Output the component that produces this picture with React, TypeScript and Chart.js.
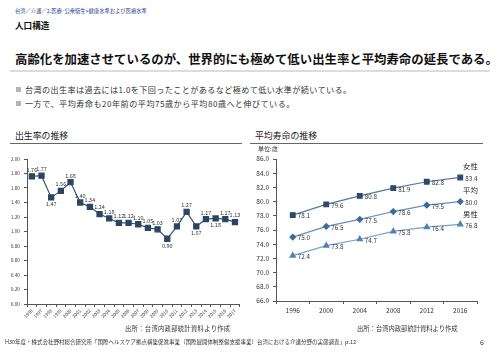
import React, { useEffect, useRef } from "react";
import { Chart, registerables } from "chart.js";

Chart.register(...registerables);

// ---------- Data ----------
const birthYears = [
  "1996", "1997", "1998", "1999", "2000", "2001", "2002", "2003", "2004", "2005", "2006",
  "2007", "2008", "2009", "2010", "2011", "2012", "2013", "2014", "2015", "2016", "2017",
];
const birthRates = [
  1.76, 1.77, 1.47, 1.56, 1.68, 1.4, 1.34, 1.24, 1.18, 1.12, 1.12,
  1.1, 1.05, 1.03, 0.9, 1.07, 1.27, 1.07, 1.17, 1.18, 1.17, 1.13,
];
const birthTicks = [0, 0.2, 0.4, 0.6, 0.8, 1.0, 1.2, 1.4, 1.6, 1.8, 2.0];

const lifeYears = ["1996", "2000", "2004", "2008", "2012", "2016"];
const lifeFemale = [78.1, 79.6, 80.8, 81.9, 82.8, 83.4];
const lifeAverage = [75.0, 76.5, 77.5, 78.6, 79.5, 80.0];
const lifeMale = [72.4, 73.8, 74.7, 75.8, 76.4, 76.8];
const lifeSeriesNames = ["女性", "平均", "男性"];
const lifeTicks = [66, 68, 70, 72, 74, 76, 78, 80, 82, 84, 86];

// label placement for birth-rate chart (style)
const birthLabelsBelow = new Set([2, 14, 17, 19]);

const JP = '"Noto Sans CJK JP", "Noto Sans", sans-serif';

const valueLabelPlugin = {
  id: "valueLabels",
  afterDatasetsDraw(chart: any, _args: any, opts: any) {
    const ctx = chart.ctx;
    ctx.save();
    ctx.font = opts.font;
    ctx.fillStyle = opts.color;
    chart.data.datasets.forEach((ds: any, di: number) => {
      const meta = chart.getDatasetMeta(di);
      meta.data.forEach((pt: any, i: number) => {
        const v = ds.data[i];
        const text = v.toFixed(opts.decimals);
        if (opts.mode === "right") {
          ctx.textAlign = "left";
          ctx.textBaseline = "middle";
          ctx.fillText(text, pt.x + 5, pt.y + 1);
        } else {
          ctx.textAlign = "center";
          if (birthLabelsBelow.has(i)) {
            ctx.textBaseline = "top";
            ctx.fillText(text, pt.x, pt.y + 4);
          } else {
            ctx.textBaseline = "bottom";
            ctx.fillText(text, pt.x, pt.y - 4);
          }
        }
      });
    });
    ctx.restore();
  },
};

function BirthChart() {
  const ref = useRef<HTMLCanvasElement>(null);
  useEffect(() => {
    const chart = new Chart(ref.current!, {
      type: "line",
      data: {
        labels: birthYears,
        datasets: [
          {
            data: birthRates,
            borderColor: "#3a5574",
            borderWidth: 1.2,
            backgroundColor: "#2b4563",
            pointBackgroundColor: "#2b4563",
            pointBorderColor: "#2b4563",
            pointStyle: "rect",
            pointRadius: 3.6,
            tension: 0,
          },
        ],
      },
      options: {
        animation: false,
        responsive: false,
        devicePixelRatio: 1,
        layout: { padding: { left: 0, top: 9, right: 5, bottom: 0 } },
        plugins: {
          legend: { display: false },
          tooltip: { enabled: false },
          valueLabels: { font: `5.5px ${JP}`, color: "#333", decimals: 2, mode: "above" },
        } as any,
        scales: {
          x: {
            type: "category",
            offset: true,
            grid: { display: true, drawOnChartArea: false, offset: true, tickLength: 3, color: "#555" },
            border: { display: true, color: "#555" },
            ticks: {
              autoSkip: false,
              maxRotation: 45,
              minRotation: 45,
              padding: 1,
              font: { size: 4.5, family: JP },
              color: "#333",
            },
            afterFit: (s: any) => { s.height = 22; },
          },
          y: {
            min: 0,
            max: 2,
            afterBuildTicks: (s: any) => { s.ticks = birthTicks.map((v) => ({ value: v })); },
            grid: { display: true, drawOnChartArea: false, tickLength: 3, color: "#555" },
            border: { display: true, color: "#555" },
            ticks: {
              callback: (v: any) => Number(v).toFixed(2),
              font: { size: 4.8, family: JP },
              color: "#333",
              padding: 4,
            },
            afterFit: (s: any) => { s.width = 27; },
          },
        },
      },
      plugins: [valueLabelPlugin],
    });
    return () => chart.destroy();
  }, []);
  return (
    <canvas
      ref={ref}
      width={245}
      height={176}
      style={{ position: "absolute", left: 0, top: 150, width: 245, height: 176 }}
    />
  );
}

function LifeChart() {
  const ref = useRef<HTMLCanvasElement>(null);
  useEffect(() => {
    const mk = (data: number[], line: string, marker: string, style: string, r: number) => ({
      data,
      borderColor: line,
      borderWidth: 1.2,
      backgroundColor: marker,
      pointBackgroundColor: marker,
      pointBorderColor: marker,
      pointStyle: style,
      pointRadius: r,
      tension: 0,
    });
    const chart = new Chart(ref.current!, {
      type: "line",
      data: {
        labels: lifeYears,
        datasets: [
          { ...mk(lifeFemale, "#5478a2", "#2c4a6e", "rect", 3.3), label: lifeSeriesNames[0] },
          { ...mk(lifeAverage, "#6790bc", "#3d6a9a", "rectRot", 2.8), label: lifeSeriesNames[1] },
          { ...mk(lifeMale, "#7aa2cc", "#4f80b6", "triangle", 3.0), label: lifeSeriesNames[2] },
        ] as any,
      },
      options: {
        animation: false,
        responsive: false,
        devicePixelRatio: 1,
        layout: { padding: { left: 0, top: 9, right: 13, bottom: 0 } },
        plugins: {
          legend: { display: false },
          tooltip: { enabled: false },
          valueLabels: { font: `6.3px ${JP}`, color: "#333", decimals: 1, mode: "right" },
        } as any,
        scales: {
          x: {
            type: "category",
            offset: true,
            grid: { display: true, drawOnChartArea: false, offset: true, tickLength: 3, color: "#555" },
            border: { display: true, color: "#555" },
            ticks: {
              autoSkip: false,
              maxRotation: 0,
              padding: 3,
              font: { size: 6.5, family: JP },
              color: "#333",
            },
            afterFit: (s: any) => { s.height = 19; },
          },
          y: {
            min: 66,
            max: 86,
            afterBuildTicks: (s: any) => { s.ticks = lifeTicks.map((v) => ({ value: v })); },
            grid: { display: true, drawOnChartArea: false, tickLength: 3, color: "#555" },
            border: { display: true, color: "#555" },
            ticks: {
              callback: (v: any) => Number(v).toFixed(1),
              font: { size: 6.5, family: JP },
              color: "#333",
              padding: 4,
            },
            afterFit: (s: any) => { s.width = 26; },
          },
        },
      },
      plugins: [valueLabelPlugin],
    });
    return () => chart.destroy();
  }, []);
  return (
    <canvas
      ref={ref}
      width={240}
      height={170}
      style={{ position: "absolute", left: 250, top: 150, width: 240, height: 170 }}
    />
  );
}

const abs = (left: number, top: number, size: number, extra: React.CSSProperties = {}): React.CSSProperties => ({
  position: "absolute",
  left,
  top,
  fontSize: size,
  lineHeight: 1,
  whiteSpace: "nowrap",
  fontFamily: JP,
  color: "#222",
  ...extra,
});

export default function App() {
  return (
    <div
      style={{
        position: "absolute",
        left: 0,
        top: 0,
        width: 500,
        height: 353,
        background: "#fff",
        overflow: "hidden",
        fontFamily: JP,
      }}
    >
      <div style={abs(15, 9, 5.3, { color: "#23418f" })}>
        台湾／介護／2.医療･公衆衛生&gt;健康水準および医療水準
      </div>
      <div style={abs(15, 21, 8.6, { fontWeight: 700, color: "#111" })}>人口構造</div>
      <div style={abs(15, 53, 12.4, { fontWeight: 700, color: "#111" })}>
        高齢化を加速させているのが、世界的にも極めて低い出生率と平均寿命の延長である。
      </div>
      <div style={{ position: "absolute", left: 10, top: 70, width: 480, height: 1.5, background: "#dcdcdc" }} />

      <div style={{ position: "absolute", left: 16, top: 87, width: 5, height: 5, background: "#b5b5b5" }} />
      <div style={abs(25, 85.5, 8.1, { color: "#333", letterSpacing: 0.4 })}>
        台湾の出生率は過去には1.0を下回ったことがあるなど極めて低い水準が続いている。
      </div>
      <div style={{ position: "absolute", left: 16, top: 101, width: 5, height: 5, background: "#b5b5b5" }} />
      <div style={abs(25, 99.5, 8.1, { color: "#333", letterSpacing: 0.5 })}>
        一方で、平均寿命も20年前の平均75歳から平均80歳へと伸びている。
      </div>

      <div style={abs(15, 132, 8.9, { color: "#222" })}>出生率の推移</div>
      <div style={{ position: "absolute", left: 10, top: 143, width: 232, height: 1, background: "#666" }} />
      <div style={abs(255, 132, 8.9, { color: "#222" })}>平均寿命の推移</div>
      <div style={{ position: "absolute", left: 250, top: 143, width: 233, height: 1, background: "#666" }} />

      <BirthChart />
      <LifeChart />

      <div style={abs(258, 146, 6, { color: "#333" })}>単位:歳</div>
      <div style={abs(463, 162, 7.4, { color: "#222" })}>{lifeSeriesNames[0]}</div>
      <div style={abs(463, 186, 7.4, { color: "#222" })}>{lifeSeriesNames[1]}</div>
      <div style={abs(463, 210, 7.4, { color: "#222" })}>{lifeSeriesNames[2]}</div>

      <div style={abs(125, 326, 6.3, { color: "#333", letterSpacing: 0.3 })}>出所：台湾内政部統計資料より作成</div>
      <div style={abs(357, 326, 6.3, { color: "#333" })}>出所：台湾内政部統計資料より作成</div>
      <div style={abs(5, 339.5, 5.5, { color: "#333" })}>
        H30年度・株式会社野村総合研究所「国際ヘルスケア拠点構築促進事業（国際展開体制整備支援事業）台湾における介護分野の実態調査」p.12
      </div>
      <div style={abs(480, 339, 7, { color: "#333" })}>6</div>
    </div>
  );
}
